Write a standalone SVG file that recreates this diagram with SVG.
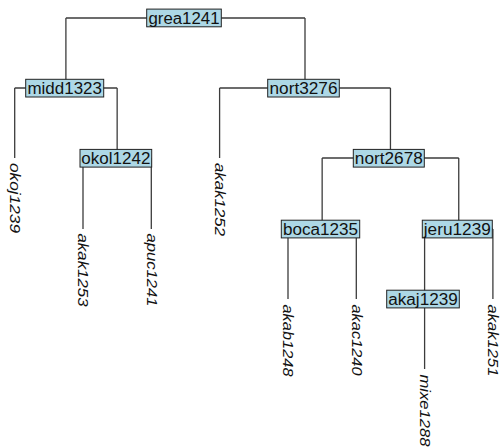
<svg xmlns="http://www.w3.org/2000/svg" width="501" height="447" viewBox="0 0 501 447">
<style>
.edge{fill:none;stroke:#3c3c3c;stroke-width:1.3}
.box{fill:#add8e6;stroke:#222;stroke-width:1}
.nl{font-family:"Liberation Sans",Arial,sans-serif;font-size:16px;fill:#111;text-anchor:middle}
.tl{font-family:"Liberation Sans",Arial,sans-serif;font-size:15.5px;font-style:italic;fill:#111}
</style>
<rect width="501" height="447" fill="#fff"/>
<g id="connectors" class="edge">
<path d="M65.9,18H305M65.9,18V88M305,18V88"/>
<path d="M14.7,88H117.15M14.7,88V158M117.15,88V158"/>
<path d="M83,158H151.3M83,158V229M151.3,158V229"/>
<path d="M219.6,88H390.45M219.6,88V158M390.45,88V158"/>
<path d="M322.15,158H458.75M322.15,158V229M458.75,158V229"/>
<path d="M288,229H356.3M288,229V299M356.3,229V299"/>
<path d="M424.6,229H492.9M424.6,229V299M492.9,229V299"/>
<path d="M424.6,299V369"/>
</g>
<g id="grea1241"><rect class="box" x="146.7" y="9.1" width="74.6" height="17.7"/><text class="nl" x="184" y="23.8" textLength="71" lengthAdjust="spacingAndGlyphs">grea1241</text></g>
<g id="midd1323"><rect class="box" x="25.7" y="79.3" width="78" height="17.7"/><text class="nl" x="64.7" y="93.8" textLength="74.5" lengthAdjust="spacingAndGlyphs">midd1323</text></g>
<g id="okol1242"><rect class="box" x="80" y="149.4" width="71.7" height="17.7"/><text class="nl" x="115.85" y="163.8" textLength="69" lengthAdjust="spacingAndGlyphs">okol1242</text></g>
<g id="nort3276"><rect class="box" x="267.7" y="79.3" width="71.6" height="17.7"/><text class="nl" x="303.5" y="93.8" textLength="68" lengthAdjust="spacingAndGlyphs">nort3276</text></g>
<g id="nort2678"><rect class="box" x="353.3" y="149.4" width="71" height="17.7"/><text class="nl" x="388.8" y="163.8" textLength="68" lengthAdjust="spacingAndGlyphs">nort2678</text></g>
<g id="boca1235"><rect class="box" x="281.3" y="220.2" width="78.4" height="17.7"/><text class="nl" x="320.5" y="234.8" textLength="75" lengthAdjust="spacingAndGlyphs">boca1235</text></g>
<g id="jeru1239"><rect class="box" x="422.3" y="220.2" width="70" height="17.7"/><text class="nl" x="457.3" y="234.8" textLength="67" lengthAdjust="spacingAndGlyphs">jeru1239</text></g>
<g id="akaj1239"><rect class="box" x="386.7" y="290.2" width="72.6" height="17.7"/><text class="nl" x="423" y="304.8" textLength="69.5" lengthAdjust="spacingAndGlyphs">akaj1239</text></g>
<g id="okoj1239"><text class="tl" transform="translate(10.2,163) rotate(90)" textLength="70" lengthAdjust="spacingAndGlyphs">okoj1239</text></g>
<g id="akak1253"><text class="tl" transform="translate(78.2,233.5) rotate(90)" textLength="73" lengthAdjust="spacingAndGlyphs">akak1253</text></g>
<g id="apuc1241"><text class="tl" transform="translate(146.5,233.5) rotate(90)" textLength="73" lengthAdjust="spacingAndGlyphs">apuc1241</text></g>
<g id="akak1252"><text class="tl" transform="translate(214.8,163) rotate(90)" textLength="73" lengthAdjust="spacingAndGlyphs">akak1252</text></g>
<g id="akab1248"><text class="tl" transform="translate(283.2,304.5) rotate(90)" textLength="72" lengthAdjust="spacingAndGlyphs">akab1248</text></g>
<g id="akac1240"><text class="tl" transform="translate(351.5,304.5) rotate(90)" textLength="71" lengthAdjust="spacingAndGlyphs">akac1240</text></g>
<g id="mixe1288"><text class="tl" transform="translate(419.8,374.5) rotate(90)" textLength="72" lengthAdjust="spacingAndGlyphs">mixe1288</text></g>
<g id="akak1251"><text class="tl" transform="translate(488.1,304.5) rotate(90)" textLength="72" lengthAdjust="spacingAndGlyphs">akak1251</text></g>
</svg>
